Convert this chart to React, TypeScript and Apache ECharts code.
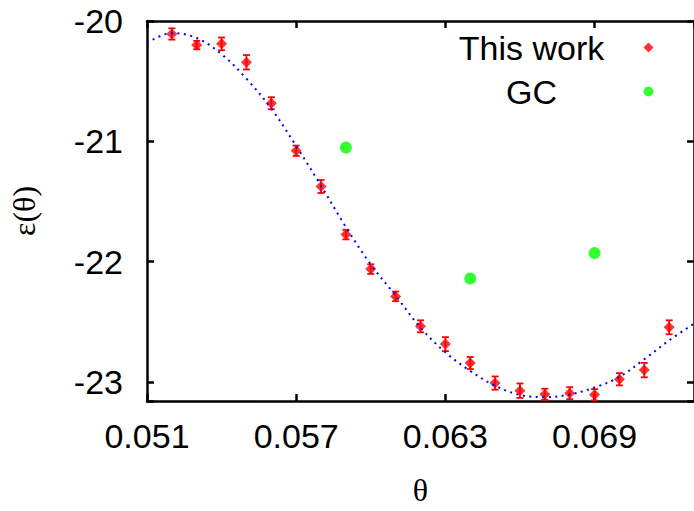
import React, { useEffect, useRef } from 'react';
import * as echarts from 'echarts';

// "This work" data points with error bars
const thetaWork = [0.052, 0.053, 0.054, 0.055, 0.056, 0.057, 0.058, 0.059, 0.060, 0.061, 0.062, 0.063, 0.064, 0.065, 0.066, 0.067, 0.068, 0.069, 0.070, 0.071, 0.072];
const epsWork = [-20.108, -20.200, -20.190, -20.343, -20.684, -21.079, -21.376, -21.776, -22.063, -22.290, -22.539, -22.687, -22.844, -23.011, -23.074, -23.104, -23.095, -23.108, -22.979, -22.903, -22.547];
const errWork = [0.047, 0.035, 0.053, 0.060, 0.050, 0.043, 0.054, 0.040, 0.040, 0.040, 0.050, 0.058, 0.050, 0.055, 0.060, 0.046, 0.050, 0.047, 0.051, 0.060, 0.058];

// GC points
const thetaGC = [0.059, 0.064, 0.069];
const epsGC = [-21.052, -22.141, -21.930];

// fitted curve
const thetaFit = [0.051, 0.052, 0.053, 0.054, 0.055, 0.056, 0.057, 0.058, 0.059, 0.060, 0.061, 0.062, 0.063, 0.064, 0.065, 0.066, 0.067, 0.068, 0.069, 0.070, 0.071, 0.072, 0.073];
const epsFit = [-20.182, -20.100, -20.141, -20.276, -20.480, -20.729, -21.040, -21.370, -21.714, -22.025, -22.283, -22.551, -22.755, -22.910, -23.033, -23.110, -23.128, -23.106, -23.048, -22.960, -22.813, -22.656, -22.517];

// tick labels
const xTicks = [0.051, 0.057, 0.063, 0.069];
const yTicks = [-20, -21, -22, -23];

const SANS = '"Liberation Sans", Arial, Helvetica, sans-serif';
const SERIF = '"Liberation Serif", "DejaVu Serif", serif';
const FS = 34;

export default function App() {
  const ref = useRef<HTMLDivElement>(null);
  useEffect(() => {
    const chart = echarts.init(ref.current as HTMLDivElement, null, { renderer: 'svg' });
    const axisLine = { show: true, onZero: false, lineStyle: { color: '#000', width: 2.5 } };
    const axisTick = { show: true, inside: true, length: 7, lineStyle: { color: '#000', width: 2.5 } };
    const xCommon = { type: 'value', min: 0.051, max: 0.073, interval: 0.006, splitLine: { show: false } };
    const yCommon = { type: 'value', min: -23.16, max: -20, minInterval: 1, maxInterval: 1, splitLine: { show: false } };
    const option: any = {
      animation: false,
      backgroundColor: '#fff',
      grid: { left: 146, top: 21, right: -2, bottom: 100.5, containLabel: false },
      legend: {
        data: ['This work', 'GC'],
        orient: 'vertical',
        align: 'right',
        right: 40.5,
        top: 30.5,
        padding: 0,
        itemGap: 10,
        itemWidth: 10,
        itemHeight: 10,
        selectedMode: false,
        formatter: (name: string) => `{t|${name}}`,
        textStyle: {
          rich: { t: { width: 214, align: 'center', fontSize: FS, lineHeight: 33, fontFamily: SANS, color: '#000' } },
        },
      },
      xAxis: [
        {
          ...xCommon,
          position: 'bottom',
          axisLine,
          axisTick,
          name: 'θ',
          nameLocation: 'middle',
          nameGap: 73,
          nameTextStyle: { fontSize: 32, fontFamily: SERIF, color: '#000' },
          axisLabel: {
            show: true,
            margin: 18,
            showMaxLabel: false,
            fontSize: FS,
            fontFamily: SANS,
            color: '#000',
            formatter: (v: number) => (xTicks.some((t) => Math.abs(t - v) < 1e-7) ? v.toFixed(3) : ''),
          },
        },
        { ...xCommon, position: 'top', axisLine, axisTick, axisLabel: { show: false } },
      ],
      yAxis: [
        {
          ...yCommon,
          position: 'left',
          axisLine,
          axisTick,
          name: 'ε(θ)',
          nameLocation: 'middle',
          nameGap: 107,
          nameTextStyle: { fontSize: 32, fontFamily: SERIF, color: '#000' },
          axisLabel: {
            show: true,
            margin: 24,
            fontSize: FS,
            fontFamily: SANS,
            color: '#000',
            formatter: (v: number) => {
              const t = yTicks.find((y) => Math.abs(y - v) < 1e-7);
              return t === undefined ? '' : String(t);
            },
          },
        },
        { ...yCommon, position: 'right', axisLine, axisTick, axisLabel: { show: false } },
      ],
      series: [
        {
          name: 'errors',
          type: 'custom',
          xAxisIndex: 0,
          yAxisIndex: 0,
          data: thetaWork.map((x, i) => [x, epsWork[i], errWork[i]]),
          encode: { x: 0, y: 1 },
          renderItem: (params: any, api: any) => {
            const x = api.value(0);
            const y = api.value(1);
            const e = api.value(2);
            const top = api.coord([x, y + e]);
            const bot = api.coord([x, y - e]);
            const hw = 3.5;
            const style = { stroke: '#ff0000', lineWidth: 1.8 };
            return {
              type: 'group',
              children: [
                { type: 'line', shape: { x1: top[0], y1: top[1], x2: bot[0], y2: bot[1] }, style },
                { type: 'line', shape: { x1: top[0] - hw, y1: top[1], x2: top[0] + hw, y2: top[1] }, style },
                { type: 'line', shape: { x1: bot[0] - hw, y1: bot[1], x2: bot[0] + hw, y2: bot[1] }, style },
              ],
            };
          },
          z: 2,
        },
        {
          name: 'This work',
          type: 'scatter',
          symbol: 'diamond',
          symbolSize: 11,
          itemStyle: { color: '#ff0000' },
          data: thetaWork.map((x, i) => [x, epsWork[i]]),
          z: 3,
        },
        {
          name: 'GC',
          type: 'scatter',
          symbol: 'circle',
          symbolSize: 12,
          itemStyle: { color: '#00ff00' },
          data: thetaGC.map((x, i) => [x, epsGC[i]]),
          z: 3,
        },
        {
          name: 'fit',
          type: 'line',
          smooth: 0.35,
          showSymbol: false,
          symbol: 'none',
          lineStyle: { color: '#0000ff', width: 2, type: [2, 4.5] },
          data: thetaFit.map((x, i) => [x, epsFit[i]]),
          z: 4,
        },
      ],
    };
    chart.setOption(option);
    return () => chart.dispose();
  }, []);
  return (
    <div
      ref={ref}
      style={{ position: 'fixed', left: 0, top: 0, width: 694, height: 511, background: '#fff' }}
    />
  );
}
